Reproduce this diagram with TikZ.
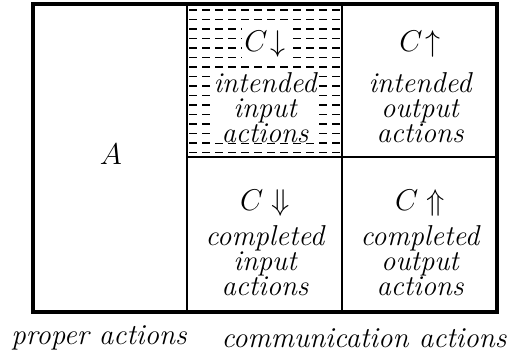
\documentclass[tikz,border=0pt]{standalone}
\usepackage{amsmath}
\usepackage{tikz}

\begin{document}
\begin{tikzpicture}[x=0.4pt,y=-0.4pt,
  frame/.style={line width=1.4pt},
  grid/.style={line width=0.9pt},
  hatch/.style={line width=0.6pt,dash pattern=on 3.2pt off 2pt},
  cell/.style={align=center,inner sep=0pt,font=\fontsize{11.5}{10}\selectfont\itshape},
  head/.style={inner sep=1pt,font=\fontsize{12}{14}\selectfont},
  label/.style={font=\fontsize{11.6}{14}\selectfont\itshape}]
\useasboundingbox (0,0) rectangle (510,356);
% hatched part: intended input actions
\foreach \y in {10,19.5,...,153}
  \draw[hatch] (189,\y) -- (341,\y);
% frame and cells
\draw[frame] (33,4) rectangle (497,312);
\draw[grid] (187,4) -- (187,312);
\draw[grid] (342,4) -- (342,312);
\draw[grid] (187,157) -- (497,157);
\node[head] (A) at (111,154) {$A$};
\node[cell,fill=white] (ii) at (265,108) {intended\\input\\actions};
\node[head,fill=white] (iihead) at (265,44) {$C\!\downarrow$};
\node[cell] (io) at (420,108) {intended\\output\\actions};
\node[head] (iohead) at (420,44) {$C\!\uparrow$};
\node[cell] (ci) at (265,261) {completed\\input\\actions};
\node[head] (cihead) at (265,203) {$C\Downarrow$};
\node[cell] (co) at (420,261) {completed\\output\\actions};
\node[head] (cohead) at (420,203) {$C\Uparrow$};
\node[label] (proper) at (99,338) {proper actions};
\node[label] (comm) at (364,338) {communication actions};
\end{tikzpicture}
\end{document}
